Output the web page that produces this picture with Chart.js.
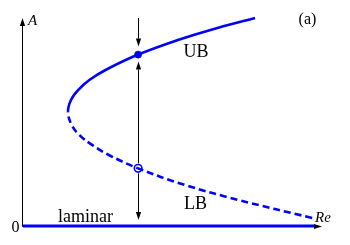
<!DOCTYPE html>
<html>
<head>
<meta charset="utf-8">
<script src="https://cdn.jsdelivr.net/npm/chart.js@4.4.1/dist/chart.umd.min.js"></script>
<style>
  html, body { margin: 0; padding: 0; background: #fff; }
  #wrap { width: 350px; height: 245px; }
</style>
</head>
<body>
<div id="wrap"><canvas id="bifChart" width="350" height="245"></canvas></div>
<script>
// ---- Data ----
// one branch: from the tail of LB, round the nose, to the end of UB
const branchRe = [9.67, 7.19, 5.42, 3.85, 2.87, 2.31, 1.89, 1.63, 1.505, 1.605, 1.85, 2.23, 2.76, 3.85, 5.18, 6.27, 7.76];
const branchA  = [0.27, 0.88, 1.38, 1.94, 2.39, 2.73, 3.06, 3.40, 3.84, 4.24, 4.58, 4.92, 5.25, 5.77, 6.26, 6.60, 7.00];
const noseIndex = 8;   // points after this are the upper (stable) branch

const laminarRe = [0, 9.75];
const laminarA  = [0, 0];

const markerRe = [3.85, 3.85];
const markerA  = [5.77, 1.94];   // UB point, LB point

const xRange = [0, 10];
const yRange = [0, 7];

const labelTexts = ['UB', 'LB', 'laminar', '(a)', 'A', 'Re', '0'];

// ---- Style ----
const BLUE  = '#0000ff';
const BLACK = '#000000';
const SERIF = "'Liberation Serif', 'DejaVu Serif', serif";

const toPts = (xs, ys) => xs.map((x, i) => ({ x: x, y: ys[i] }));

function arrow(ctx, x0, y0, x1, y1) {
  const ang = Math.atan2(y1 - y0, x1 - x0);
  const len = 8, half = 2.6;
  const bx = x1 - len * Math.cos(ang), by = y1 - len * Math.sin(ang);
  ctx.beginPath();
  ctx.moveTo(x0, y0);
  ctx.lineTo(bx, by);
  ctx.stroke();
  ctx.beginPath();
  ctx.moveTo(x1, y1);
  ctx.lineTo(bx - half * Math.sin(ang), by + half * Math.cos(ang));
  ctx.lineTo(bx + half * Math.sin(ang), by - half * Math.cos(ang));
  ctx.closePath();
  ctx.fill();
}

// axes drawn under the curves
const axesPlugin = {
  id: 'axes',
  beforeDatasetsDraw(chart) {
    const { ctx, chartArea: a } = chart;
    ctx.save();
    ctx.strokeStyle = BLACK;
    ctx.fillStyle = BLACK;
    ctx.lineWidth = 1;
    const left = Math.round(a.left) - 0.5;
    const bottom = Math.round(a.bottom) + 0.5;
    arrow(ctx, left, bottom, left, a.top);
    arrow(ctx, left, bottom, a.right, bottom);

    // vertical arrows through the two marked states
    const xs = chart.scales.x, ys = chart.scales.y;
    const px = Math.round(xs.getPixelForValue(markerRe[0])) + 0.5;
    const pUp = ys.getPixelForValue(markerA[0]);
    const pLo = ys.getPixelForValue(markerA[1]);
    arrow(ctx, px, a.top, px, pUp - 8);
    arrow(ctx, px, pLo - 5, px, pUp + 7);
    arrow(ctx, px, pLo + 5, px, a.bottom - 6);
    ctx.restore();
  }
};

// texts on top
const labelsPlugin = {
  id: 'labels',
  afterDraw(chart) {
    const { ctx, chartArea: a } = chart;
    const xs = chart.scales.x, ys = chart.scales.y;
    ctx.save();
    ctx.fillStyle = BLACK;
    ctx.textBaseline = 'alphabetic';

    ctx.font = '18px ' + SERIF;
    ctx.textAlign = 'center';
    ctx.fillText(labelTexts[0], xs.getPixelForValue(5.79), ys.getPixelForValue(5.70));
    ctx.fillText(labelTexts[1], xs.getPixelForValue(5.77), ys.getPixelForValue(0.58));
    ctx.fillText(labelTexts[2], xs.getPixelForValue(2.09), ys.getPixelForValue(0.15));

    ctx.font = '16px ' + SERIF;
    ctx.fillText(labelTexts[3], 307.5, 24);

    ctx.font = 'italic 15px ' + SERIF;
    ctx.textAlign = 'left';
    ctx.fillText(labelTexts[4], a.left + 5, 25);
    ctx.fillText(labelTexts[5], a.right - 7, a.bottom - 4);

    ctx.font = '16px ' + SERIF;
    ctx.textAlign = 'center';
    ctx.fillText(labelTexts[6], a.left - 7.5, a.bottom + 6);
    ctx.restore();
  }
};

new Chart(document.getElementById('bifChart').getContext('2d'), {
  type: 'scatter',
  data: {
    datasets: [
      {
        label: 'states',
        data: toPts(markerRe, markerA),
        showLine: false,
        pointRadius: [3.6, 3.8],
        pointBackgroundColor: [BLUE, 'rgba(0,0,0,0)'],
        pointBorderColor: BLUE,
        pointBorderWidth: [0.5, 1.6],
        order: 0
      },
      {
        label: 'branch',
        data: toPts(branchRe, branchA),
        showLine: true,
        borderColor: BLUE,
        borderWidth: 2.6,
        pointRadius: 0,
        tension: 0.4,
        segment: {
          borderDash: c => (c.p1DataIndex <= noseIndex ? [7, 4] : undefined)
        },
        order: 1
      },
      {
        label: 'laminar',
        data: toPts(laminarRe, laminarA),
        showLine: true,
        borderColor: BLUE,
        borderWidth: 3,
        pointRadius: 0,
        order: 2
      }
    ]
  },
  options: {
    responsive: false,
    animation: false,
    clip: false,
    layout: { padding: { left: 23, right: 28, top: 18, bottom: 19 } },
    plugins: { legend: { display: false }, tooltip: { enabled: false } },
    scales: {
      x: { type: 'linear', min: xRange[0], max: xRange[1], display: false },
      y: { type: 'linear', min: yRange[0], max: yRange[1], display: false }
    }
  },
  plugins: [axesPlugin, labelsPlugin]
});
</script>
</body>
</html>
